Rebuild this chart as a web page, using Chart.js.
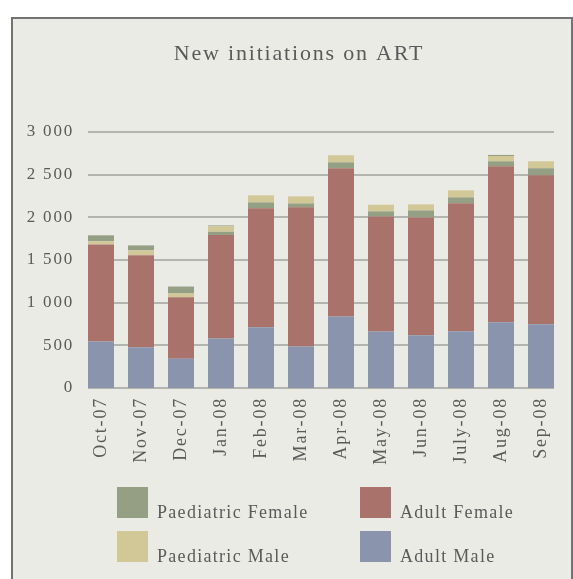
<!DOCTYPE html>
<html>
<head>
<meta charset="utf-8">
<script src="https://cdn.jsdelivr.net/npm/chart.js@4"></script>
<style>
  html, body { margin: 0; padding: 0; background: #fff; overflow: hidden; }
  #frame {
    position: absolute; left: 11px; top: 17px; width: 558px; height: 580px;
    background: #ebebe6; border: 2px solid #737373; border-bottom: none;
  }
  #artChart { position: absolute; left: 0; top: 0; }
</style>
</head>
<body>
<div id="frame"></div>
<canvas id="artChart" width="573" height="579"></canvas>
<script>
const months = ['Oct-07', 'Nov-07', 'Dec-07', 'Jan-08', 'Feb-08', 'Mar-08',
                'Apr-08', 'May-08', 'Jun-08', 'July-08', 'Aug-08', 'Sep-08'];
const adultMale   = [545, 477, 344, 579, 711, 485, 837, 661, 618, 664, 770, 747];
const adultFemale = [1138, 1080, 720, 1213, 1394, 1632, 1738, 1350, 1381, 1500, 1828, 1745];
// paediatric female sits under the male slice in most months, above it in a few
const paedFemaleBelow = [0, 0, 0, 39, 70, 47, 70, 59, 82, 70, 59, 83];
const paedMale        = [35, 55, 43, 63, 83, 82, 82, 78, 71, 82, 62, 82];
const paedFemaleAbove = [71, 59, 82, 11, 0, 0, 0, 0, 0, 0, 12, 0];
const yTicks = [0, 500, 1000, 1500, 2000, 2500, 3000];

const FONT = "'Liberation Serif', serif";
const TEXT = '#5a5a5a';
const colors = {
    adultMale: '#8a94ad',
    adultFemale: '#a9736b',
    paedFemale: '#959f83',
    paedMale: '#d2c797'
};

const artDecor = {
    id: 'artDecor',
    beforeDraw(chart) {
        chart.ctx.letterSpacing = '1.8px';
    },
    beforeDatasetsDraw(chart) {
        const ctx = chart.ctx;
        const y = chart.scales.y;
        const bars = chart.getDatasetMeta(0).data;
        const left = bars[0].x - bars[0].width / 2;
        const last = bars[bars.length - 1];
        const right = last.x + last.width / 2;
        ctx.save();
        ctx.strokeStyle = '#b4b4b1';
        ctx.lineWidth = 2;
        yTicks.forEach(v => {
            const py = Math.round(y.getPixelForValue(v));
            ctx.beginPath();
            ctx.moveTo(left, py);
            ctx.lineTo(right, py);
            ctx.stroke();
        });
        ctx.restore();
    },
    afterDraw(chart) {
        const ctx = chart.ctx;
        ctx.save();
        ctx.fillStyle = TEXT;
        ctx.letterSpacing = '1.8px';
        ctx.font = '22px ' + FONT;
        ctx.textAlign = 'center';
        ctx.textBaseline = 'middle';
        ctx.fillText('New initiations on ART', 299, 54);

        // legend, two columns
        const items = [
            ['Paediatric Female', colors.paedFemale, 117, 487],
            ['Adult Female', colors.adultFemale, 360, 487],
            ['Paediatric Male', colors.paedMale, 117, 531],
            ['Adult Male', colors.adultMale, 360, 531]
        ];
        ctx.letterSpacing = '1.3px';
        ctx.font = '18px ' + FONT;
        ctx.textAlign = 'left';
        ctx.textBaseline = 'alphabetic';
        items.forEach(([label, color, x, y]) => {
            ctx.fillStyle = color;
            ctx.fillRect(x, y, 31, 31);
            ctx.fillStyle = TEXT;
            ctx.fillText(label, x + 40, y + 31);
        });
        ctx.restore();
    }
};

const ctx = document.getElementById('artChart').getContext('2d');
new Chart(ctx, {
    type: 'bar',
    data: {
        labels: months,
        datasets: [
            { label: 'Adult Male', data: adultMale, backgroundColor: colors.adultMale },
            { label: 'Adult Female', data: adultFemale, backgroundColor: colors.adultFemale },
            { label: 'Paediatric Female', data: paedFemaleBelow, backgroundColor: colors.paedFemale },
            { label: 'Paediatric Male', data: paedMale, backgroundColor: colors.paedMale },
            { label: 'Paediatric Female ', data: paedFemaleAbove, backgroundColor: colors.paedFemale }
        ]
    },
    options: {
        responsive: false,
        animation: false,
        layout: { padding: { top: 132, right: 12, bottom: 101, left: 0 } },
        datasets: {
            bar: { categoryPercentage: 1, barPercentage: 0.65, stack: 'all' }
        },
        plugins: {
            legend: { display: false },
            title: { display: false },
            tooltip: { enabled: false }
        },
        scales: {
            x: {
                stacked: true,
                grid: { display: false, drawTicks: false },
                border: { display: false },
                ticks: {
                    autoSkip: false,
                    minRotation: 90,
                    maxRotation: 90,
                    padding: 9,
                    color: TEXT,
                    font: { family: FONT, size: 18 }
                },
                afterFit(scale) { scale.height = 90; }
            },
            y: {
                stacked: true,
                min: 0,
                max: 3000,
                grid: { display: false, drawTicks: false },
                border: { display: false },
                ticks: {
                    stepSize: 500,
                    padding: 7,
                    color: TEXT,
                    font: { family: FONT, size: 17 },
                    callback: v => v >= 1000
                        ? Math.floor(v / 1000) + ' ' + String(v % 1000).padStart(3, '0')
                        : String(v)
                },
                afterFit(scale) { scale.width = 81; }
            }
        }
    },
    plugins: [artDecor]
});
</script>
</body>
</html>
